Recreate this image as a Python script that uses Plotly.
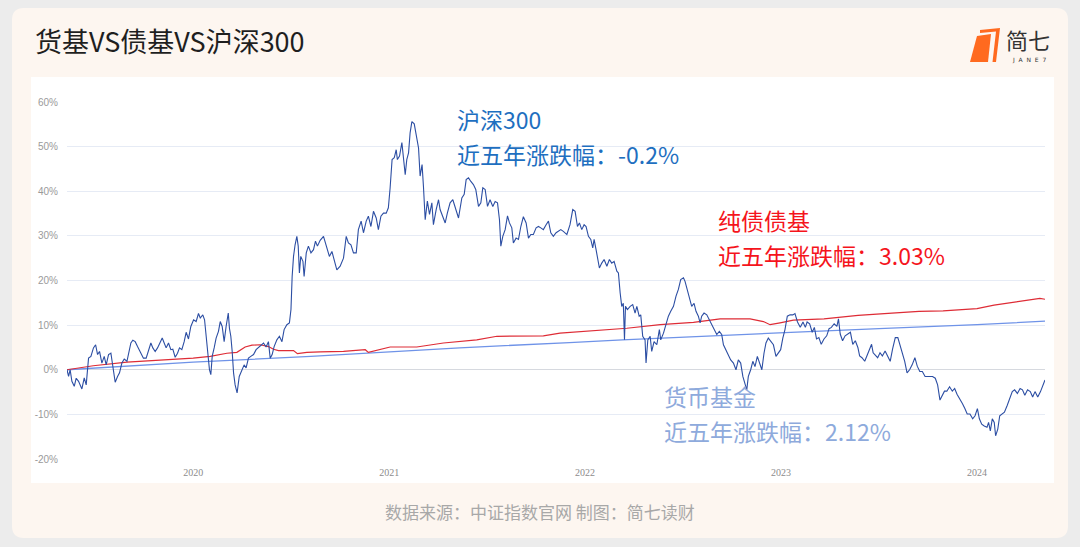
import plotly.graph_objects as go
import pandas as pd

# ---------------- data (decimal years, % change) ----------------
csi_t = [
    2019.356, 2019.364, 2019.372, 2019.381, 2019.393, 2019.403, 2019.415, 2019.432, 2019.444, 2019.454,
    2019.466, 2019.478, 2019.491, 2019.502, 2019.512, 2019.522, 2019.534, 2019.546, 2019.556, 2019.568,
    2019.580, 2019.593, 2019.602, 2019.614, 2019.624, 2019.636, 2019.648, 2019.662, 2019.670, 2019.682,
    2019.692, 2019.704, 2019.716, 2019.730, 2019.746, 2019.760, 2019.772, 2019.784, 2019.794, 2019.806,
    2019.818, 2019.832, 2019.842, 2019.852, 2019.862, 2019.874, 2019.886, 2019.896, 2019.908, 2019.920,
    2019.930, 2019.942, 2019.954, 2019.964, 2019.976, 2019.988, 2020.002, 2020.015, 2020.027, 2020.036,
    2020.049, 2020.058, 2020.066, 2020.073, 2020.083, 2020.090, 2020.097, 2020.107, 2020.117, 2020.129,
    2020.138, 2020.148, 2020.158, 2020.168, 2020.179, 2020.185, 2020.192, 2020.199, 2020.206, 2020.214,
    2020.224, 2020.235, 2020.248, 2020.260, 2020.270, 2020.282, 2020.294, 2020.308, 2020.321, 2020.333,
    2020.345, 2020.359, 2020.372, 2020.384, 2020.393, 2020.403, 2020.413, 2020.427, 2020.440, 2020.453,
    2020.464, 2020.478, 2020.491, 2020.499, 2020.505, 2020.512, 2020.520, 2020.529, 2020.536, 2020.542,
    2020.549, 2020.560, 2020.566, 2020.577, 2020.588, 2020.601, 2020.614, 2020.624, 2020.634, 2020.648,
    2020.665, 2020.682, 2020.695, 2020.708, 2020.719, 2020.733, 2020.750, 2020.767, 2020.781, 2020.792,
    2020.805, 2020.818, 2020.832, 2020.843, 2020.857, 2020.869, 2020.883, 2020.894, 2020.907, 2020.920,
    2020.934, 2020.945, 2020.958, 2020.971, 2020.985, 2020.996, 2021.005, 2021.015, 2021.026, 2021.036,
    2021.042, 2021.053, 2021.065, 2021.073, 2021.082, 2021.090, 2021.099, 2021.107, 2021.116, 2021.128,
    2021.138, 2021.150, 2021.158, 2021.168, 2021.175, 2021.184, 2021.195, 2021.206, 2021.218, 2021.226,
    2021.240, 2021.252, 2021.260, 2021.274, 2021.286, 2021.297, 2021.311, 2021.325, 2021.337, 2021.354,
    2021.371, 2021.383, 2021.393, 2021.405, 2021.417, 2021.430, 2021.442, 2021.456, 2021.468, 2021.478,
    2021.490, 2021.502, 2021.515, 2021.529, 2021.541, 2021.553, 2021.563, 2021.570, 2021.580, 2021.592,
    2021.604, 2021.614, 2021.626, 2021.634, 2021.648, 2021.660, 2021.672, 2021.685, 2021.699, 2021.711,
    2021.723, 2021.736, 2021.750, 2021.762, 2021.774, 2021.787, 2021.801, 2021.813, 2021.825, 2021.838,
    2021.852, 2021.864, 2021.876, 2021.889, 2021.907, 2021.923, 2021.937, 2021.949, 2021.961, 2021.971,
    2021.983, 2021.995, 2022.005, 2022.017, 2022.029, 2022.039, 2022.046, 2022.056, 2022.063, 2022.073,
    2022.085, 2022.097, 2022.111, 2022.124, 2022.136, 2022.148, 2022.162, 2022.170, 2022.179, 2022.187,
    2022.195, 2022.201, 2022.206, 2022.216, 2022.230, 2022.243, 2022.255, 2022.264, 2022.276, 2022.284,
    2022.294, 2022.306, 2022.311, 2022.320, 2022.332, 2022.340, 2022.352, 2022.366, 2022.379, 2022.386,
    2022.400, 2022.413, 2022.425, 2022.437, 2022.451, 2022.464, 2022.476, 2022.488, 2022.502, 2022.510,
    2022.522, 2022.536, 2022.544, 2022.556, 2022.566, 2022.578, 2022.587, 2022.595, 2022.607, 2022.621,
    2022.634, 2022.646, 2022.658, 2022.672, 2022.685, 2022.697, 2022.706, 2022.719, 2022.731, 2022.743,
    2022.757, 2022.770, 2022.782, 2022.794, 2022.805, 2022.816, 2022.825, 2022.833, 2022.845, 2022.856,
    2022.867, 2022.879, 2022.889, 2022.902, 2022.913, 2022.923, 2022.935, 2022.947, 2022.961, 2022.974,
    2022.986, 2022.998, 2023.009, 2023.020, 2023.032, 2023.046, 2023.060, 2023.071, 2023.084, 2023.098,
    2023.112, 2023.124, 2023.133, 2023.146, 2023.159, 2023.170, 2023.181, 2023.193, 2023.205, 2023.219,
    2023.233, 2023.245, 2023.257, 2023.271, 2023.285, 2023.293, 2023.302, 2023.314, 2023.327, 2023.340,
    2023.354, 2023.366, 2023.379, 2023.392, 2023.401, 2023.413, 2023.427, 2023.441, 2023.453, 2023.462,
    2023.470, 2023.482, 2023.493, 2023.505, 2023.517, 2023.531, 2023.545, 2023.557, 2023.569, 2023.583,
    2023.596, 2023.609, 2023.621, 2023.631, 2023.643, 2023.656, 2023.669, 2023.683, 2023.695, 2023.708,
    2023.721, 2023.735, 2023.747, 2023.760, 2023.773, 2023.787, 2023.799, 2023.811, 2023.822, 2023.834,
    2023.846, 2023.860, 2023.874, 2023.886, 2023.898, 2023.912, 2023.926, 2023.938, 2023.950, 2023.964,
    2023.978, 2023.990, 2024.002, 2024.012, 2024.024, 2024.037, 2024.051, 2024.059, 2024.068, 2024.078,
    2024.088, 2024.095, 2024.106, 2024.116, 2024.129, 2024.140, 2024.154, 2024.168, 2024.180, 2024.192,
    2024.206, 2024.220, 2024.232, 2024.244, 2024.258, 2024.272, 2024.284, 2024.296, 2024.310, 2024.324,
    2024.336, 2024.347,
]
csi_v = [
    0.0, -1.5, 0.0, -2.6, -3.7, -1.9, -2.6, -4.3, -1.8, -3.4,
    2.6, 3.0, 4.9, 5.6, 3.4, 4.1, 1.5, 3.0, 1.1, 3.4,
    3.7, -0.7, -2.8, -1.5, -0.7, 1.5, 2.4, 1.9, 3.4, 6.0,
    6.6, 6.3, 5.2, 4.1, 2.6, 2.6, 4.5, 6.0, 4.9, 4.1,
    4.9, 6.3, 7.1, 6.0, 4.9, 6.0, 4.5, 4.6, 2.8, 3.7,
    4.9, 4.5, 6.3, 8.4, 6.9, 9.7, 11.2, 10.8, 12.6, 11.6,
    12.3, 11.2, 7.5, 4.5, 0.0, -1.1, 3.0, 4.9, 7.1, 8.6,
    10.8, 9.7, 6.3, 9.7, 12.7, 9.3, 7.5, 4.1, -0.7, -3.4,
    -5.2, -1.5, 0.0, 1.1, 0.4, 2.6, 3.0, 3.4, 4.5, 5.0,
    5.6, 6.0, 5.1, 6.3, 2.6, 3.4, 5.2, 6.7, 7.5, 6.3,
    9.0, 10.1, 10.5, 13.5, 20.9, 25.4, 28.0, 29.9, 27.7, 21.7,
    25.4, 24.3, 20.9, 26.2, 27.7, 26.2, 26.9, 28.8, 27.7, 29.0,
    29.9, 27.3, 25.4, 26.5, 24.7, 22.4, 23.2, 25.0, 29.9, 28.4,
    28.0, 26.2, 26.2, 31.4, 33.3, 30.7, 33.3, 34.4, 32.1, 35.5,
    34.0, 31.4, 34.4, 35.1, 35.1, 36.3, 40.8, 47.1, 47.5, 49.3,
    47.1, 47.9, 50.9, 46.7, 43.7, 47.1, 48.6, 53.1, 55.6, 55.1,
    52.3, 49.7, 43.4, 46.0, 41.1, 33.6, 37.8, 34.8, 37.4, 32.5,
    35.9, 38.1, 35.9, 34.0, 32.9, 35.1, 37.4, 38.1, 36.3, 34.0,
    38.5, 39.3, 42.6, 43.0, 42.2, 41.5, 40.4, 36.6, 37.4, 40.8,
    40.4, 36.6, 38.1, 36.6, 37.7, 37.4, 33.6, 27.7, 29.9, 31.4,
    34.5, 32.9, 31.8, 28.4, 29.5, 29.2, 32.1, 34.3, 32.9, 29.5,
    30.3, 30.3, 31.8, 32.1, 31.8, 31.4, 32.5, 33.3, 30.7, 29.9,
    30.7, 31.0, 31.4, 31.0, 30.3, 32.5, 35.9, 35.5, 32.1, 32.9,
    31.4, 32.5, 32.1, 29.9, 29.2, 27.3, 29.2, 26.9, 25.0, 22.8,
    23.9, 24.7, 23.2, 24.7, 23.9, 24.3, 22.1, 21.7, 17.2, 14.2,
    14.9, 6.7, 14.2, 13.5, 14.2, 14.6, 12.7, 14.2, 12.0, 12.3,
    7.5, 6.7, 1.5, 6.7, 7.5, 4.1, 6.3, 5.6, 9.0, 6.7,
    8.2, 10.1, 12.0, 13.1, 14.2, 16.5, 18.0, 20.2, 20.6, 19.8,
    18.0, 15.7, 14.2, 14.9, 13.1, 12.0, 10.5, 12.0, 12.7, 12.3,
    11.2, 10.1, 9.3, 7.9, 8.6, 7.9, 5.6, 4.5, 3.4, 2.2,
    1.5, 0.0, 2.2, 1.5, -1.5, -3.4, -4.5, -1.5, 0.0, 1.9,
    0.7, 3.0, 1.5, 0.0, 3.7, 6.0, 7.1, 6.3, 5.6, 3.0,
    3.7, 4.5, 7.1, 9.0, 12.0, 12.3, 12.3, 12.6, 10.7, 9.5,
    10.7, 9.5, 10.7, 10.3, 8.4, 9.5, 6.9, 7.2, 5.7, 6.9,
    7.6, 9.2, 9.5, 10.3, 9.7, 11.4, 8.0, 6.5, 7.6, 8.0,
    8.4, 5.7, 6.5, 5.0, 3.1, 2.7, 1.9, 3.4, 5.0, 5.7,
    3.8, 3.1, 2.7, 3.8, 3.1, 4.2, 3.1, 1.9, 4.6, 7.2,
    7.2, 5.3, 3.8, 1.9, -0.7, 0.0, 1.1, 2.7, 0.8, -0.4,
    -0.4, -1.5, -1.5, -1.5, -1.5, -1.9, -3.4, -6.8, -5.7, -4.8,
    -4.8, -3.8, -4.8, -4.2, -5.5, -6.5, -7.6, -8.7, -9.9, -9.9,
    -11.0, -10.3, -8.7, -11.0, -12.2, -12.6, -12.9, -11.8, -13.7, -11.0,
    -11.8, -14.8, -13.3, -10.3, -9.9, -9.5, -8.0, -6.1, -4.9, -4.5,
    -5.3, -4.2, -4.5, -5.7, -4.5, -4.9, -6.1, -4.9, -6.1, -4.9,
    -3.4, -2.3,
]

bond_t = [2019.356, 2019.490, 2019.662, 2019.832, 2020.000, 2020.087, 2020.172, 2020.223, 2020.265, 2020.300,
          2020.342, 2020.384, 2020.410, 2020.435, 2020.512, 2020.532, 2020.580, 2020.648, 2020.767, 2020.878,
          2020.894, 2021.005, 2021.141, 2021.277, 2021.447, 2021.550, 2021.703, 2021.787, 2021.872, 2022.042,
          2022.213, 2022.383, 2022.553, 2022.689, 2022.842, 2022.910, 2022.944, 2022.995, 2023.063, 2023.219,
          2023.393, 2023.566, 2023.704, 2023.827, 2024.000, 2024.087, 2024.260, 2024.321, 2024.347]
bond_v = [0.0, 0.9, 1.7, 2.1, 2.6, 3.0, 3.7, 3.9, 5.1, 5.5,
          5.6, 5.2, 4.6, 4.3, 4.3, 3.6, 3.9, 4.0, 4.1, 4.5,
          3.9, 5.1, 5.1, 6.0, 6.7, 7.5, 7.6, 7.6, 8.2, 8.8,
          9.3, 10.1, 10.6, 11.4, 11.4, 10.8, 10.1, 10.5, 11.1, 11.4,
          12.2, 12.7, 13.1, 13.2, 13.7, 14.5, 15.5, 16.0, 15.8]

money_t = [2019.356, 2020.000, 2020.600, 2021.360, 2021.920, 2022.190, 2022.960, 2023.060, 2023.500, 2024.000, 2024.347]
money_v = [0.0, 1.7, 3.0, 4.9, 6.1, 6.7, 8.2, 8.4, 9.2, 10.1, 10.9]

y_tickvals = [-20, -10, 0, 10, 20, 30, 40, 50, 60]
y_ticktext = ["-20%", "-10%", "0%", "10%", "20%", "30%", "40%", "50%", "60%"]
x_tickyears = [2020, 2021, 2022, 2023, 2024]
x_ticktext = ["2020", "2021", "2022", "2023", "2024"]

# ---------------- helpers ----------------
W, H = 1080, 547
L, R, T, B = 67, 35, 102, 88
PW, PH = W - L - R, H - T - B


def px(x):
    return (x - L) / PW


def py(y):
    return (H - B - y) / PH


def to_dates(ts):
    base = pd.Timestamp("2019-01-01")
    return [base + pd.Timedelta(days=(t - 2019) * 365.25) for t in ts]


def rounded_rect(x0, y0, x1, y1, r):
    return (f"M {px(x0 + r)} {py(y0)} L {px(x1 - r)} {py(y0)} "
            f"Q {px(x1)} {py(y0)} {px(x1)} {py(y0 + r)} "
            f"L {px(x1)} {py(y1 - r)} Q {px(x1)} {py(y1)} {px(x1 - r)} {py(y1)} "
            f"L {px(x0 + r)} {py(y1)} Q {px(x0)} {py(y1)} {px(x0)} {py(y1 - r)} "
            f"L {px(x0)} {py(y0 + r)} Q {px(x0)} {py(y0)} {px(x0 + r)} {py(y0)} Z")


def poly(points):
    return "M " + " L ".join(f"{px(x)} {py(y)}" for x, y in points) + " Z"


CJK = "Noto Sans CJK SC"

fig = go.Figure()
fig.add_trace(go.Scatter(x=to_dates(money_t), y=money_v, mode="lines", name="货币基金",
                         line=dict(color="#6f93e8", width=1.3)))
fig.add_trace(go.Scatter(x=to_dates(bond_t), y=bond_v, mode="lines", name="纯债债基",
                         line=dict(color="#de2c36", width=1.2)))
fig.add_trace(go.Scatter(x=to_dates(csi_t), y=csi_v, mode="lines", name="沪深300",
                         line=dict(color="#2c4ea3", width=1.1)))

shapes = [
    dict(type="path", xref="paper", yref="paper", path=rounded_rect(12, 8, 1068, 538, 12),
         fillcolor="#fdf6f0", line=dict(width=0), layer="below"),
    dict(type="rect", xref="paper", yref="paper", x0=px(31), x1=px(1054), y0=py(483), y1=py(77),
         fillcolor="#ffffff", line=dict(width=0), layer="below"),
    # logo
    dict(type="path", xref="paper", yref="paper",
         path=poly([(977, 36), (991, 34), (988, 62), (970, 62)]),
         fillcolor="#ff6a1f", line=dict(width=0), layer="above"),
    dict(type="path", xref="paper", yref="paper",
         path=poly([(980, 30), (1000, 28), (996, 62), (992.5, 62), (996, 31.5), (980, 33)]),
         fillcolor="#ff6a1f", line=dict(width=0), layer="above"),
]

LBL = 23
annotations = [
    dict(text="货基VS债基VS沪深300", x=px(33), y=py(41), xanchor="left", yanchor="middle",
         font=dict(family=CJK, size=27, color="#1f1f1f")),
    dict(text="简七", x=px(1004), y=py(39), xanchor="left", yanchor="middle",
         font=dict(family=CJK, size=22, color="#333333")),
    dict(text="J  A  N  E  7", x=px(1029), y=py(60), xanchor="center", yanchor="middle",
         font=dict(family="DejaVu Sans", size=6, color="#333333")),
    dict(text="沪深300", x=px(455), y=py(119), xanchor="left", yanchor="middle",
         font=dict(family=CJK, size=LBL, color="#1e6fc0")),
    dict(text="近五年涨跌幅：-0.2%", x=px(455), y=py(154), xanchor="left", yanchor="middle",
         font=dict(family=CJK, size=LBL, color="#1e6fc0")),
    dict(text="纯债债基", x=px(716), y=py(220), xanchor="left", yanchor="middle",
         font=dict(family=CJK, size=LBL, color="#f5141c")),
    dict(text="近五年涨跌幅：3.03%", x=px(716), y=py(255), xanchor="left", yanchor="middle",
         font=dict(family=CJK, size=LBL, color="#f5141c")),
    dict(text="货币基金", x=px(662), y=py(396), xanchor="left", yanchor="middle",
         font=dict(family=CJK, size=LBL, color="#8eaadc")),
    dict(text="近五年涨跌幅：2.12%", x=px(662), y=py(431), xanchor="left", yanchor="middle",
         font=dict(family=CJK, size=LBL, color="#8eaadc")),
    dict(text="数据来源：中证指数官网 制图：简七读财", x=px(540), y=py(512), xanchor="center", yanchor="middle",
         font=dict(family=CJK, size=17, color="#a8a8a8")),
]
for a in annotations:
    a.update(xref="paper", yref="paper", showarrow=False)

x_range = to_dates([2019.356, 2024.347])
x_ticks = to_dates(x_tickyears)

fig.update_layout(
    width=W, height=H,
    margin=dict(l=L, r=R, t=T, b=B, pad=0),
    paper_bgcolor="#ececec",
    plot_bgcolor="#ffffff",
    showlegend=False,
    shapes=shapes,
    annotations=annotations,
    xaxis=dict(range=x_range, tickvals=x_ticks, ticktext=x_ticktext, showgrid=False,
               zeroline=False, showline=False, ticks="outside", ticklen=4, tickcolor="rgba(0,0,0,0)",
               tickfont=dict(family="Liberation Sans Narrow", size=10, color="#8c8c8c")),
    xaxis2=dict(overlaying="x", matches="x", anchor="free", position=0.25, showgrid=False,
                showticklabels=False, ticks="inside", ticklen=4, tickcolor="#d0d0d0",
                tickvals=x_ticks, showline=False, zeroline=False),
    yaxis=dict(range=[-20, 60], tickvals=y_tickvals, ticktext=y_ticktext, showgrid=True,
               gridcolor="#e6ebf5", gridwidth=1, zeroline=True, zerolinecolor="#d6d9df", zerolinewidth=1,
               showline=False, ticks="outside", ticklen=6, tickcolor="rgba(0,0,0,0)",
               tickfont=dict(family="Liberation Sans", size=10, color="#9a9a9a")),
)

fig.write_html("out.html")
